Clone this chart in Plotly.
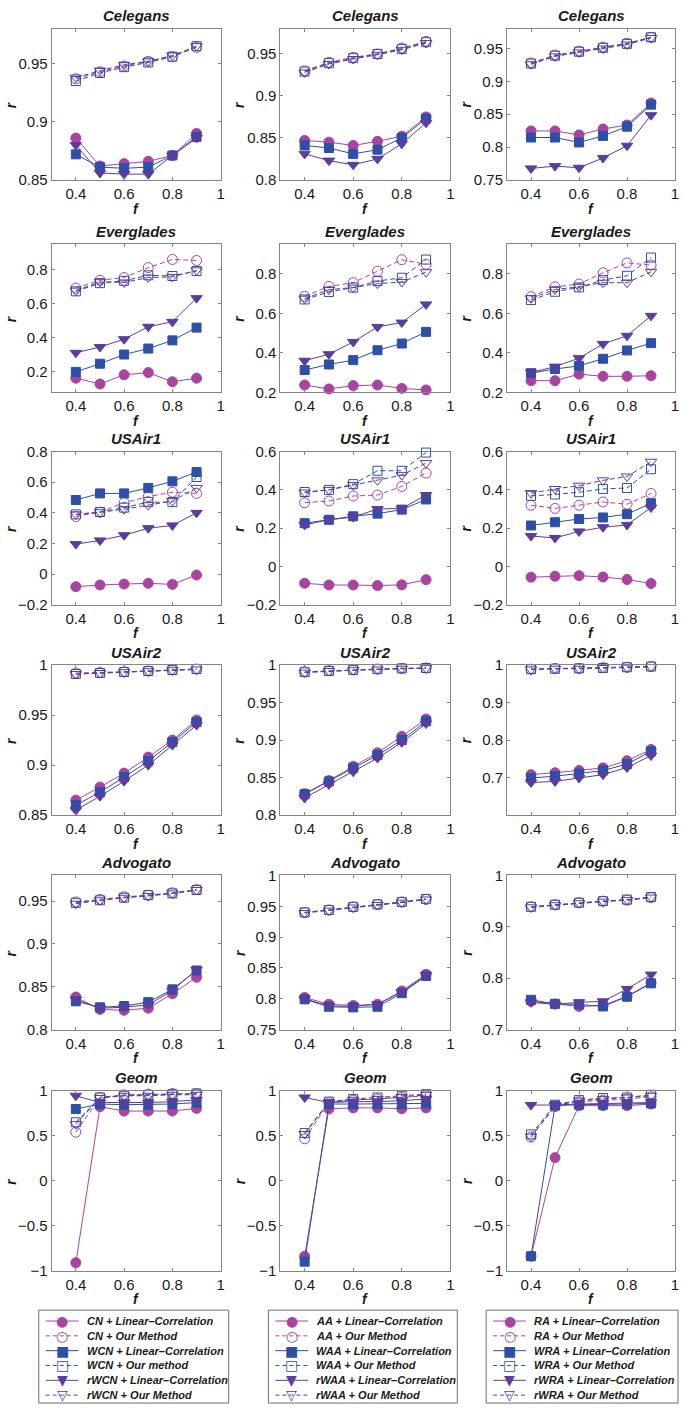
import plotly.graph_objects as go

W, H = 685, 1413

# ---------------- data ----------------
F = [0.4, 0.5, 0.6, 0.7, 0.8, 0.9]
X_TICKS = [0.4, 0.6, 0.8, 1]
X_TICK_TEXT = ["0.4", "0.6", "0.8", "1"]

DATASETS = ["Celegans", "Everglades", "USAir1", "USAir2", "Advogato", "Geom"]

# each panel: [A+LC, A+Our, W+LC, W+Our, rW+LC, rW+Our]
celegans_cn = [
    [0.886, 0.862, 0.864, 0.866, 0.871, 0.890],
    [0.937, 0.943, 0.948, 0.952, 0.956, 0.964],
    [0.872, 0.861, 0.860, 0.861, 0.871, 0.887],
    [0.935, 0.942, 0.947, 0.951, 0.956, 0.965],
    [0.880, 0.856, 0.855, 0.855, 0.871, 0.886],
    [0.938, 0.944, 0.949, 0.952, 0.957, 0.965],
]
celegans_aa = [
    [0.847, 0.845, 0.841, 0.846, 0.852, 0.875],
    [0.930, 0.940, 0.946, 0.950, 0.957, 0.965],
    [0.841, 0.838, 0.831, 0.836, 0.850, 0.873],
    [0.929, 0.939, 0.945, 0.950, 0.956, 0.964],
    [0.831, 0.823, 0.818, 0.825, 0.843, 0.868],
    [0.928, 0.938, 0.944, 0.949, 0.955, 0.963],
]
celegans_ra = [
    [0.8245, 0.8245, 0.8185, 0.8275, 0.8335, 0.867],
    [0.928, 0.940, 0.946, 0.952, 0.958, 0.967],
    [0.8145, 0.8145, 0.807, 0.817, 0.831, 0.8645],
    [0.927, 0.939, 0.945, 0.951, 0.957, 0.967],
    [0.7675, 0.771, 0.7685, 0.7835, 0.802, 0.8485],
    [0.926, 0.938, 0.944, 0.950, 0.956, 0.966],
]
everglades_cn = [
    [0.163, 0.129, 0.183, 0.196, 0.142, 0.163],
    [0.692, 0.738, 0.754, 0.812, 0.860, 0.854],
    [0.200, 0.248, 0.302, 0.337, 0.385, 0.460],
    [0.673, 0.721, 0.735, 0.767, 0.763, 0.792],
    [0.312, 0.346, 0.392, 0.465, 0.494, 0.633],
    [0.677, 0.729, 0.725, 0.754, 0.758, 0.796],
]
everglades_aa = [
    [0.237, 0.217, 0.234, 0.237, 0.220, 0.212],
    [0.686, 0.736, 0.755, 0.813, 0.871, 0.848],
    [0.313, 0.341, 0.363, 0.413, 0.447, 0.506],
    [0.670, 0.708, 0.730, 0.763, 0.780, 0.872],
    [0.360, 0.393, 0.455, 0.531, 0.553, 0.645],
    [0.674, 0.720, 0.730, 0.750, 0.758, 0.808],
]
everglades_ra = [
    [0.259, 0.259, 0.292, 0.281, 0.281, 0.284],
    [0.684, 0.734, 0.748, 0.805, 0.855, 0.844],
    [0.297, 0.318, 0.334, 0.370, 0.412, 0.449],
    [0.667, 0.709, 0.731, 0.768, 0.790, 0.882],
    [0.300, 0.330, 0.373, 0.445, 0.486, 0.587],
    [0.676, 0.721, 0.734, 0.755, 0.755, 0.810],
]
usair1_cn = [
    [-0.082, -0.071, -0.065, -0.060, -0.067, -0.006],
    [0.376, 0.404, 0.467, 0.506, 0.535, 0.527],
    [0.484, 0.527, 0.527, 0.563, 0.606, 0.667],
    [0.390, 0.406, 0.434, 0.470, 0.470, 0.634],
    [0.196, 0.220, 0.254, 0.300, 0.318, 0.400],
    [0.390, 0.404, 0.424, 0.450, 0.477, 0.563],
]
usair1_aa = [
    [-0.088, -0.097, -0.097, -0.100, -0.096, -0.069],
    [0.333, 0.342, 0.368, 0.373, 0.418, 0.488],
    [0.226, 0.244, 0.262, 0.276, 0.297, 0.350],
    [0.389, 0.400, 0.430, 0.500, 0.500, 0.595],
    [0.217, 0.244, 0.258, 0.300, 0.303, 0.373],
    [0.386, 0.400, 0.425, 0.450, 0.477, 0.540],
]
usair1_ra = [
    [-0.056, -0.051, -0.048, -0.055, -0.068, -0.089],
    [0.320, 0.303, 0.320, 0.337, 0.325, 0.381],
    [0.214, 0.231, 0.248, 0.256, 0.273, 0.330],
    [0.369, 0.376, 0.388, 0.405, 0.410, 0.508],
    [0.159, 0.149, 0.183, 0.205, 0.217, 0.308],
    [0.383, 0.405, 0.422, 0.450, 0.470, 0.547],
]
usair2_cn = [
    [0.865, 0.878, 0.892, 0.908, 0.925, 0.945],
    [0.992, 0.9925, 0.9932, 0.994, 0.995, 0.996],
    [0.860, 0.873, 0.888, 0.904, 0.923, 0.943],
    [0.991, 0.992, 0.993, 0.994, 0.995, 0.996],
    [0.855, 0.869, 0.884, 0.900, 0.920, 0.940],
    [0.991, 0.992, 0.9928, 0.9938, 0.9948, 0.9955],
]
usair2_aa = [
    [0.8286, 0.846, 0.865, 0.883, 0.905, 0.928],
    [0.991, 0.9925, 0.9938, 0.9947, 0.9956, 0.996],
    [0.828, 0.845, 0.863, 0.880, 0.900, 0.925],
    [0.9905, 0.992, 0.9935, 0.9945, 0.9955, 0.996],
    [0.823, 0.841, 0.858, 0.876, 0.897, 0.922],
    [0.990, 0.992, 0.993, 0.994, 0.995, 0.9958],
]
usair2_ra = [
    [0.708, 0.713, 0.719, 0.726, 0.745, 0.775],
    [0.989, 0.991, 0.991, 0.993, 0.994, 0.996],
    [0.699, 0.704, 0.711, 0.719, 0.736, 0.770],
    [0.989, 0.990, 0.991, 0.992, 0.994, 0.996],
    [0.687, 0.690, 0.699, 0.708, 0.727, 0.759],
    [0.988, 0.990, 0.990, 0.992, 0.993, 0.995],
]
advogato_cn = [
    [0.838, 0.8236, 0.8225, 0.825, 0.8418, 0.861],
    [0.949, 0.952, 0.955, 0.957, 0.9597, 0.9635],
    [0.833, 0.826, 0.8275, 0.832, 0.847, 0.869],
    [0.948, 0.951, 0.954, 0.957, 0.959, 0.963],
    [0.835, 0.825, 0.826, 0.829, 0.8456, 0.870],
    [0.947, 0.951, 0.954, 0.956, 0.959, 0.963],
]
advogato_aa = [
    [0.802, 0.791, 0.789, 0.791, 0.8125, 0.8396],
    [0.940, 0.944, 0.949, 0.953, 0.957, 0.961],
    [0.799, 0.787, 0.786, 0.787, 0.809, 0.837],
    [0.940, 0.944, 0.949, 0.953, 0.957, 0.962],
    [0.800, 0.788, 0.788, 0.791, 0.811, 0.838],
    [0.939, 0.943, 0.948, 0.952, 0.956, 0.961],
]
advogato_ra = [
    [0.755, 0.750, 0.745, 0.747, 0.765, 0.791],
    [0.939, 0.943, 0.947, 0.950, 0.952, 0.957],
    [0.758, 0.750, 0.749, 0.745, 0.764, 0.790],
    [0.939, 0.943, 0.947, 0.950, 0.953, 0.958],
    [0.753, 0.749, 0.753, 0.755, 0.779, 0.807],
    [0.938, 0.942, 0.946, 0.949, 0.952, 0.957],
]
geom_cn = [
    [-0.912, 0.824, 0.775, 0.775, 0.775, 0.805],
    [0.54, 0.926, 0.956, 0.963, 0.970, 0.970],
    [0.798, 0.853, 0.846, 0.846, 0.853, 0.870],
    [0.65, 0.926, 0.945, 0.956, 0.963, 0.970],
    [0.945, 0.870, 0.870, 0.870, 0.880, 0.900],
    [0.63, 0.920, 0.945, 0.945, 0.956, 0.956],
]
geom_aa = [
    [-0.84, 0.80, 0.81, 0.81, 0.80, 0.81],
    [0.467, 0.87, 0.897, 0.908, 0.926, 0.945],
    [-0.90, 0.853, 0.853, 0.853, 0.853, 0.86],
    [0.53, 0.88, 0.908, 0.926, 0.945, 0.963],
    [0.926, 0.87, 0.88, 0.88, 0.89, 0.91],
    [0.52, 0.87, 0.90, 0.91, 0.93, 0.956],
]
geom_ra = [
    [-0.84, 0.257, 0.835, 0.835, 0.835, 0.853],
    [0.485, 0.824, 0.88, 0.897, 0.908, 0.934],
    [-0.84, 0.835, 0.846, 0.846, 0.853, 0.86],
    [0.515, 0.846, 0.897, 0.92, 0.926, 0.956],
    [0.842, 0.842, 0.853, 0.86, 0.86, 0.87],
    [0.49, 0.835, 0.89, 0.908, 0.926, 0.945],
]

PANELS = [
    [celegans_cn, celegans_aa, celegans_ra],
    [everglades_cn, everglades_aa, everglades_ra],
    [usair1_cn, usair1_aa, usair1_ra],
    [usair2_cn, usair2_aa, usair2_ra],
    [advogato_cn, advogato_aa, advogato_ra],
    [geom_cn, geom_aa, geom_ra],
]

Y_RANGES = [
    [[0.85, 0.98], [0.8, 0.98], [0.75, 0.98]],
    [[0.08, 0.95], [0.2, 0.95], [0.2, 0.95]],
    [[-0.2, 0.8], [-0.2, 0.6], [-0.2, 0.6]],
    [[0.85, 1.0], [0.8, 1.0], [0.6, 1.0]],
    [[0.8, 0.98], [0.75, 1.0], [0.7, 1.0]],
    [[-1, 1], [-1, 1], [-1, 1]],
]
Y_TICKS = [
    [[0.85, 0.9, 0.95], [0.8, 0.85, 0.9, 0.95], [0.75, 0.8, 0.85, 0.9, 0.95]],
    [[0.2, 0.4, 0.6, 0.8], [0.2, 0.4, 0.6, 0.8], [0.2, 0.4, 0.6, 0.8]],
    [[-0.2, 0, 0.2, 0.4, 0.6, 0.8], [-0.2, 0, 0.2, 0.4, 0.6], [-0.2, 0, 0.2, 0.4, 0.6]],
    [[0.85, 0.9, 0.95, 1], [0.8, 0.85, 0.9, 0.95, 1], [0.7, 0.8, 0.9, 1]],
    [[0.8, 0.85, 0.9, 0.95], [0.75, 0.8, 0.85, 0.9, 0.95, 1], [0.7, 0.8, 0.9, 1]],
    [[-1, -0.5, 0, 0.5, 1], [-1, -0.5, 0, 0.5, 1], [-1, -0.5, 0, 0.5, 1]],
]

LEGEND_LABELS = [
    ["CN + Linear–Correlation", "CN + Our Method", "WCN + Linear–Correlation",
     "WCN + Our method", "rWCN + Linear–Correlation", "rWCN + Our Method"],
    ["AA + Linear–Correlation", "AA + Our Method", "WAA + Linear–Correlation",
     "WAA + Our Method", "rWAA + Linear–Correlation", "rWAA + Our Method"],
    ["RA + Linear–Correlation", "RA + Our Method", "WRA + Linear–Correlation",
     "WRA + Our Method", "rWRA + Linear–Correlation", "rWRA + Our Method"],
]

# ---------------- styles ----------------
C_MAG = "#A8449F"
C_BLUE = "#2D4FA8"
C_PURP = "#5A3D9E"
SERIES_STYLE = [
    dict(color=C_MAG, symbol="circle", size=10, dash="solid"),
    dict(color=C_MAG, symbol="circle-open", size=10, dash="5px,3px"),
    dict(color=C_BLUE, symbol="square", size=9, dash="solid"),
    dict(color=C_BLUE, symbol="square-open", size=9, dash="5px,3px"),
    dict(color=C_PURP, symbol="triangle-down", size=10, dash="solid"),
    dict(color=C_PURP, symbol="triangle-down-open", size=10, dash="5px,3px"),
]
LEGEND_GLYPH = ["●", "○", "■", "□", "▼", "▽"]

COL_PX = [(52, 222), (282, 453), (510, 679)]
ROW_PX = [(20, 173), (238, 388), (448, 603), (664, 816), (877, 1033), (1095, 1277)]
LEG_BOX_PX = [(39, 230), (270, 460), (489, 682)]
LEG_TOP, LEG_BOTTOM, LEG_ROW0, LEG_STEP = 1317, 1411, 1328, 15

FONT = "Liberation Sans, Arial, Helvetica, sans-serif"
AX_COLOR = "#858585"


def px(x):
    return x / W


def py(y):
    return 1 - y / H


def fmt(v):
    s = f"{v:g}"
    return s.replace("-", "−")


fig = go.Figure()
layout = dict(
    width=W, height=H, autosize=False,
    margin=dict(l=0, r=0, t=0, b=0),
    paper_bgcolor="white", plot_bgcolor="white",
    showlegend=False,
    font=dict(family=FONT, size=15, color="#1a1a1a"),
)
annotations = []
shapes = []

n = 0
for r in range(6):
    for c in range(3):
        n += 1
        xa = "x" if n == 1 else f"x{n}"
        ya = "y" if n == 1 else f"y{n}"
        panel = PANELS[r][c]
        for s, vals in enumerate(panel):
            st = SERIES_STYLE[s]
            fig.add_trace(go.Scatter(
                x=F, y=vals, xaxis=xa, yaxis=ya,
                mode="lines+markers",
                name=LEGEND_LABELS[c][s],
                line=dict(color=st["color"], width=1, dash=st["dash"]),
                marker=dict(symbol=st["symbol"], size=st["size"], color=st["color"],
                            line=dict(color=st["color"], width=1)),
                cliponaxis=False,
            ))
        x0, x1 = COL_PX[c]
        y0, y1 = ROW_PX[r]
        common = dict(
            showline=True, mirror="ticks", linecolor=AX_COLOR, linewidth=1,
            ticks="inside", ticklen=3, tickcolor=AX_COLOR, tickwidth=1,
            showgrid=False, zeroline=False, ticklabeloverflow="allow",
            tickfont=dict(family=FONT, size=15, color="#1a1a1a"),
        )
        layout[f"xaxis{'' if n == 1 else n}"] = dict(
            domain=[px(x0), px(x1)], anchor=ya, range=[0.3, 1],
            tickvals=X_TICKS, ticktext=X_TICK_TEXT, **common)
        yt = Y_TICKS[r][c]
        layout[f"yaxis{'' if n == 1 else n}"] = dict(
            domain=[py(y1), py(y0)], anchor=xa, range=Y_RANGES[r][c],
            tickvals=yt, ticktext=[fmt(v) for v in yt], **common)
        # title
        annotations.append(dict(
            text=f"<b><i>{DATASETS[r]}</i></b>", xref="paper", yref="paper",
            x=px((x0 + x1) / 2), y=py(y0 - 13), showarrow=False,
            xanchor="center", yanchor="middle",
            font=dict(family=FONT, size=15, color="#1a1a1a")))
        # x label
        annotations.append(dict(
            text="<b><i>f</i></b>", xref="paper", yref="paper",
            x=px((x0 + x1) / 2), y=py(y1 + 29), showarrow=False,
            xanchor="center", yanchor="middle",
            font=dict(family=FONT, size=14, color="#1a1a1a")))
        # y label
        annotations.append(dict(
            text="<b><i>r</i></b>", xref="paper", yref="paper",
            x=px(x0 - 41), y=py((y0 + y1) / 2), showarrow=False, textangle=-90,
            xanchor="center", yanchor="middle",
            font=dict(family=FONT, size=14, color="#1a1a1a")))

# legends (one box per column)
for c in range(3):
    lx, rx = LEG_BOX_PX[c]
    shapes.append(dict(type="rect", xref="paper", yref="paper",
                       x0=px(lx), x1=px(rx), y0=py(LEG_BOTTOM), y1=py(LEG_TOP),
                       line=dict(color="#6e6e6e", width=1), fillcolor="white", layer="below"))
    for s in range(6):
        st = SERIES_STYLE[s]
        yc = LEG_ROW0 + LEG_STEP * s
        shapes.append(dict(type="line", xref="paper", yref="paper",
                           x0=px(lx + 7), x1=px(lx + 40), y0=py(yc), y1=py(yc),
                           line=dict(color=st["color"], width=1,
                                     dash="solid" if st["dash"] == "solid" else "4px,3px")))
        annotations.append(dict(
            text=LEGEND_GLYPH[s], xref="paper", yref="paper",
            x=px(lx + 23.5), y=py(yc), showarrow=False,
            xanchor="center", yanchor="middle",
            font=dict(family="DejaVu Sans", size=14, color=st["color"])))
        annotations.append(dict(
            text=f"<b><i>{LEGEND_LABELS[c][s]}</i></b>", xref="paper", yref="paper",
            x=px(lx + 46), y=py(yc), showarrow=False,
            xanchor="left", yanchor="middle",
            font=dict(family=FONT, size=11, color="#1a1a1a")))

layout["annotations"] = annotations
layout["shapes"] = shapes
fig.update_layout(**layout)
fig.write_html("out.html", config={"displayModeBar": False},
               post_script="document.body.style.margin='0';")
